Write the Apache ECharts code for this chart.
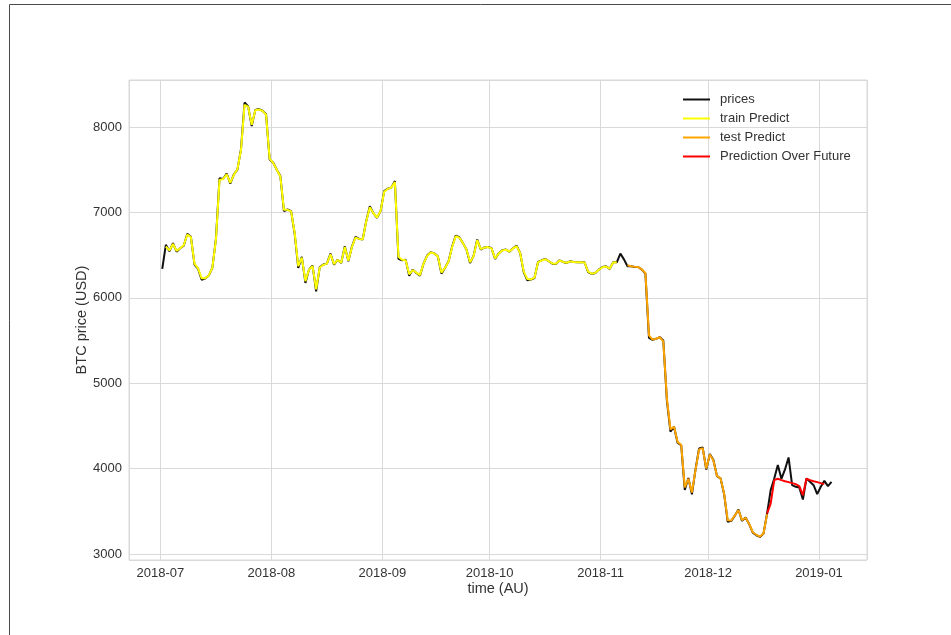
<!DOCTYPE html>
<html>
<head>
<meta charset="utf-8">
<script src="https://cdn.jsdelivr.net/npm/echarts@6/dist/echarts.min.js"></script>
<style>
html,body{margin:0;padding:0;background:#fff;}
#chart{width:951px;height:635px;}
</style>
</head>
<body>
<div id="chart"></div>
<script>
// ---- data ----
const startDate = '2018-07-01T12:00:00';   // first daily observation
const xMin = '2018-06-22T05:00:00';
const xMax = '2019-01-14T10:00:00';
const yMin = 2930;
const yMax = 8550;

const prices = [
6338,6620,6545,6640,6540,6580,6610,6750,6715,6390,
6340,6212,6225,6260,6350,6690,7400,7390,7455,7336,
7445,7500,7740,8286,8240,8010,8200,8210,8190,8150,
7621,7582,7500,7425,7015,7034,7015,6750,6350,6479,
6174,6330,6377,6076,6360,6389,6400,6518,6389,6447,
6408,6604,6428,6600,6713,6690,6682,6900,7073,6990,
6936,7015,7249,7277,7290,7367,6455,6440,6447,6259,
6330,6290,6259,6400,6494,6533,6520,6486,6283,6349,
6428,6600,6729,6709,6640,6565,6408,6494,6682,6565,
6590,6596,6580,6455,6520,6557,6565,6540,6580,6611,
6525,6300,6205,6213,6232,6420,6439,6455,6428,6400,
6396,6439,6420,6408,6428,6420,6416,6416,6416,6300,
6279,6291,6330,6361,6369,6338,6416,6416,6518,6450,
6369,6369,6361,6361,6330,6283,5530,5508,5520,5540,
5500,4800,4432,4491,4300,4276,3750,3890,3700,3990,
4237,4248,3990,4170,4100,3912,3885,3700,3376,3388,
3450,3521,3388,3427,3349,3250,3220,3200,3239,3474,
3748,3885,4041,3880,3990,4131,3806,3787,3780,3638,
3885,3846,3806,3701,3787,3857,3795,3846
];

const trainStart = 1;
const trainPredict = [
6600,6555,6630,6550,6580,6615,6740,6710,6400,
6345,6230,6228,6262,6350,6680,7380,7390,7445,7345,
7440,7505,7730,8260,8235,8025,8195,8205,8188,8145,
7630,7580,7500,7420,7030,7030,7012,6760,6370,6470,
6195,6330,6370,6100,6355,6385,6400,6510,6395,6445,
6410,6595,6435,6595,6705,6690,6682,6895,7060,6990,
6940,7015,7240,7275,7290,7355,6480,6445,6440,6275,
6325,6295,6265,6400,6490,6530,6518,6485,6295,6350,
6425,6595,6720,6705,6640,6565,6415,6490,6675,6570,
6588,6594,6578,6460,6518,6555,6563,6542,6578,6605,
6525,6310,6220,6215,6235,6415,6437,6452,6428,6402,
6398,6436,6420,6410,6426,6420,6416,6416,6414,6305,
6282,6292,6328,6358,6366,6340,6412,6416
];

const testStart = 130;
const testPredict = [
6380,6370,6362,6360,6332,6290,5560,5510,5520,5538,
5490,4820,4460,4490,4310,4280,3780,3880,3720,3985,
4225,4240,4000,4165,4095,3915,3885,3705,3395,3392,
3452,3515,3395,3425,3352,3255,3225,3205,3240,3465
];

const futureStart = 169;
const futurePredict = [
3474,3591,3865,3881,3865,3853,3842,3830,3818,3795,
3689,3881,3865,3853,3842,3830,3818
];

const seriesNames = ['prices','train Predict','test Predict','Prediction Over Future'];
const seriesColors = ['#111111','#ffff00','#ffa500','#ff0000'];

// ---- build ----
const DAY = 86400000;
const t0 = new Date(startDate).getTime();
function pairs(arr, start){ return arr.map((v,i)=>[t0 + (start+i)*DAY, v]); }

const chart = echarts.init(document.getElementById('chart'), null, {renderer:'canvas'});
const font = "'Liberation Sans', Arial, sans-serif";
const gridColor = '#d9d9d9';
const textColor = '#333333';

const dataSets = [pairs(prices,0), pairs(trainPredict,trainStart), pairs(testPredict,testStart), pairs(futurePredict,futureStart)];

chart.setOption({
  animation:false,
  backgroundColor:'#ffffff',
  textStyle:{fontFamily:font},
  grid:{left:129, right:84, top:80, bottom:75, show:true, borderColor:gridColor, borderWidth:1, backgroundColor:'#ffffff'},
  xAxis:{
    type:'time',
    min:new Date(xMin).getTime(),
    max:new Date(xMax).getTime(),
    splitNumber:7,
    name:'time (AU)',
    nameLocation:'middle',
    nameGap:21,
    nameMoveOverlap:false,
    nameTextStyle:{fontSize:14.5, color:textColor, fontFamily:font},
    axisLine:{show:false},
    axisTick:{show:false},
    splitLine:{show:true, lineStyle:{color:gridColor, width:1}},
    axisLabel:{
      fontSize:13, color:textColor, fontFamily:font, margin:7,
      formatter:function(val){
        const d = new Date(val);
        if (d.getDate()!==1 || d.getHours()!==0) return '';
        return d.getFullYear()+'-'+String(d.getMonth()+1).padStart(2,'0');
      }
    }
  },
  yAxis:{
    type:'value',
    min:yMin, max:yMax,
    splitNumber:5,
    name:'BTC price (USD)',
    nameLocation:'middle',
    nameGap:40,
    nameMoveOverlap:false,
    nameTextStyle:{fontSize:14.5, color:textColor, fontFamily:font},
    axisLine:{show:false},
    axisTick:{show:false},
    splitLine:{show:true, lineStyle:{color:gridColor, width:1}},
    axisLabel:{
      fontSize:13, color:textColor, fontFamily:font, margin:7,
      formatter:function(v){ return (Math.abs(v % 1000) < 1e-6) ? String(v) : ''; }
    }
  },
  legend:{
    orient:'vertical',
    left:678, top:87,
    icon:'rect',
    itemWidth:27, itemHeight:2,
    itemGap:4,
    textStyle:{fontSize:13, color:textColor, fontFamily:font, lineHeight:15, padding:[0,0,0,5]},
    data:seriesNames
  },
  graphic:[{
    type:'polyline',
    shape:{points:[[9.5,640],[9.5,4.5],[960,4.5]]},
    style:{stroke:'#4a4a4a', lineWidth:1, fill:null},
    silent:true
  }],
  series: seriesNames.map((n,i)=>({
    name:n,
    type:'line',
    data:dataSets[i],
    showSymbol:false,
    symbol:'none',
    lineStyle:{color:seriesColors[i], width:2},
    itemStyle:{color:seriesColors[i]},
    z:2+i
  }))
});
</script>
</body>
</html>
